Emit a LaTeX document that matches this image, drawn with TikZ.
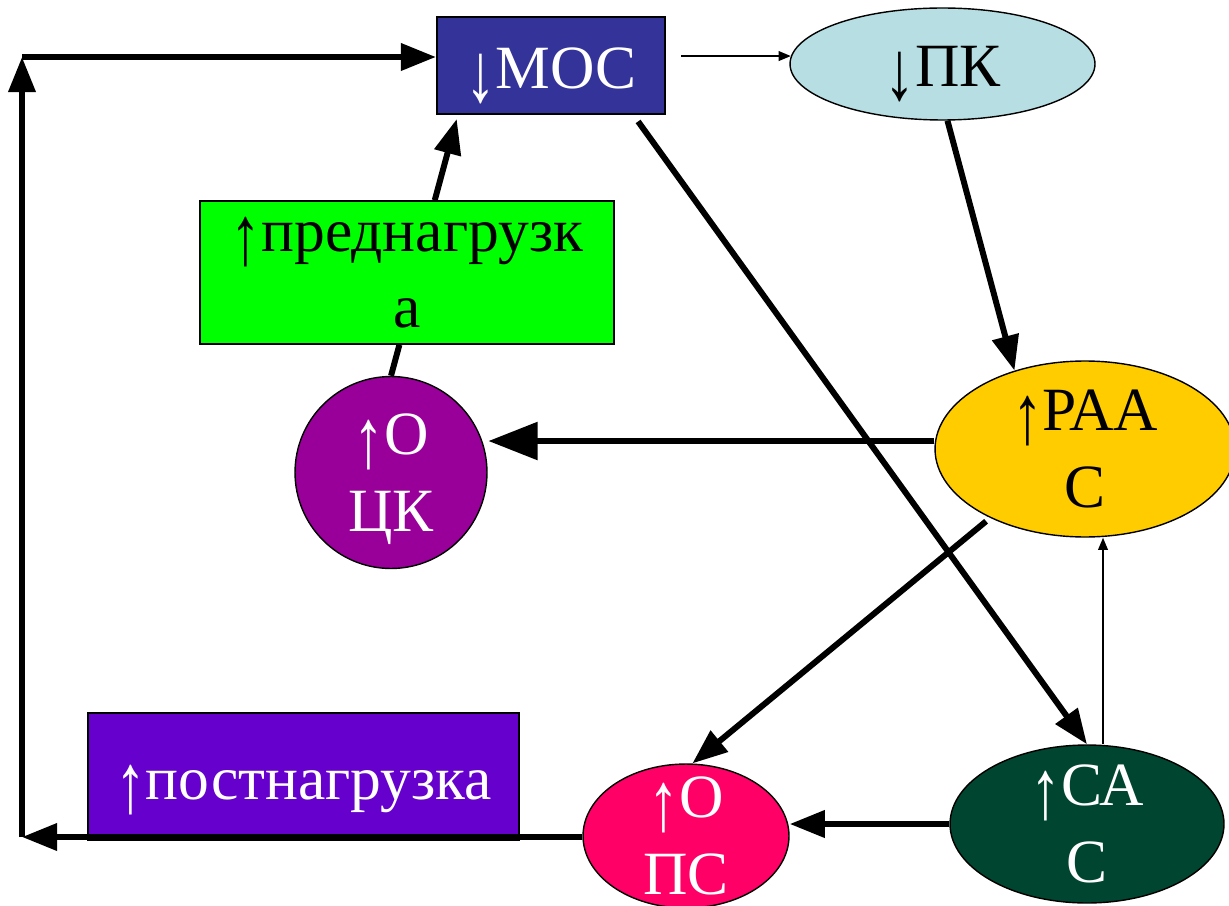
\documentclass[tikz,border=0pt]{standalone}
\usepackage{fontspec}
\setmainfont{Liberation Serif}
\usepackage{graphicx}
\usepackage{xcolor}
\usepackage{tikz}
\usetikzlibrary{arrows.meta,shapes.geometric}
\definecolor{mocblue}{HTML}{333399}
\definecolor{pkblue}{HTML}{B7DFE3}
\definecolor{predgreen}{HTML}{00FF00}
\definecolor{ockpurple}{HTML}{990099}
\definecolor{raasgold}{HTML}{FFCC00}
\definecolor{postviolet}{HTML}{6600CC}
\definecolor{opspink}{HTML}{FF0066}
\definecolor{sacgreen}{HTML}{00452F}
\newcommand{\uparr}{\raisebox{-0.21em}{\scalebox{1}[1.37]{↑}}}
\newcommand{\dnarr}{\raisebox{-0.21em}{\scalebox{1}[1.37]{↓}}}

\begin{document}
\begin{tikzpicture}[x=0.02cm,y=-0.02cm,
  font=\fontsize{35}{43.5}\selectfont,
  oneline/.style={text height=26pt,text depth=0pt},
  box/.style={draw=black,line width=1.2pt,rectangle,inner sep=0pt,align=center},
  oval/.style={draw=black,line width=0.8pt,ellipse,inner xsep=0pt,inner ysep=-14pt,align=center},
  thickline/.style={line width=3.4pt},
  thickarrow/.style={line width=3.4pt,-{Triangle[length=20pt,width=15pt]}},
  bigarrow/.style={line width=3.4pt,-{Triangle[length=28pt,width=21pt]}},
  thinarrow/.style={line width=1.1pt,-{Triangle[length=7pt,width=5.5pt]}}]
  \useasboundingbox (0,0) rectangle (1229,905);
  % nodes
  \node[box,oneline,fill=mocblue,text=white,minimum width=4.56cm,minimum height=1.94cm] (moc) at (551,65.5) {\dnarr МОС};
  \node[oval,oneline,fill=pkblue,minimum width=6.1cm,minimum height=2.24cm] (pk) at (942.5,64) {\dnarr ПК};
  \node[box,fill=predgreen,line width=0.9pt,minimum width=8.28cm,minimum height=2.86cm] (pred) at (407,272.5) {\uparr преднагрузк\\а};
  \node[draw=black,line width=0.8pt,circle,inner sep=0pt,align=center,fill=ockpurple,text=white,minimum size=3.84cm] (ock) at (391,472.5) {\uparr О\\\smash{ЦК}};
  \node[oval,fill=raasgold,minimum width=6cm,minimum height=3.52cm] (raas) at (1085,449) {\uparr РАА\\С};
  \node[box,oneline,fill=postviolet,text=white,minimum width=8.62cm,minimum height=2.54cm] (post) at (303.5,776.5) {\uparr постнагрузка};
  \node[oval,fill=opspink,text=white,minimum width=4.12cm,minimum height=2.88cm] (ops) at (686,836) {\uparr О\\ПС};
  \node[oval,fill=sacgreen,text=white,minimum width=5.48cm,minimum height=3.16cm] (sac) at (1087,824) {\uparr СА\\С};
  % loop on the left
  \coordinate (bl) at (22,837);
  \coordinate (tl) at (22,57);
  \coordinate (mocr) at ([xshift=0.3cm]pk.177 -| moc.east);
  \coordinate (sacup) at ([xshift=0.32cm]sac.north);
  % connectors
  \draw[thickarrow] (ops.west |- bl) -- (bl);
  \draw[thickarrow] (bl) -- (tl);
  \draw[thickarrow] (tl) -- (moc.west |- tl);
  \draw[thinarrow] (mocr) -- (pk.177);
  \draw[thickarrow] (pk.-85) -- (raas.132);
  \draw[bigarrow,shorten >=3.4pt] (ock.19 -| raas.west) -- (ock.19);
  \draw[thickline] (ock.north) -- (pred.264);
  \draw[thickarrow,shorten >=2.3pt] (pred.69) -- (moc.208);
  \draw[thickarrow,shorten <=4.5pt] (moc.-31) -- (sac.north);
  \draw[thickarrow,shorten <=3pt] (raas.216) -- (ops.85);
  \draw[thinarrow] (sacup) -- (sacup |- raas.south);
  \draw[thickarrow] (sac.west) -- (sac.west -| ops.east);
\end{tikzpicture}
\end{document}
